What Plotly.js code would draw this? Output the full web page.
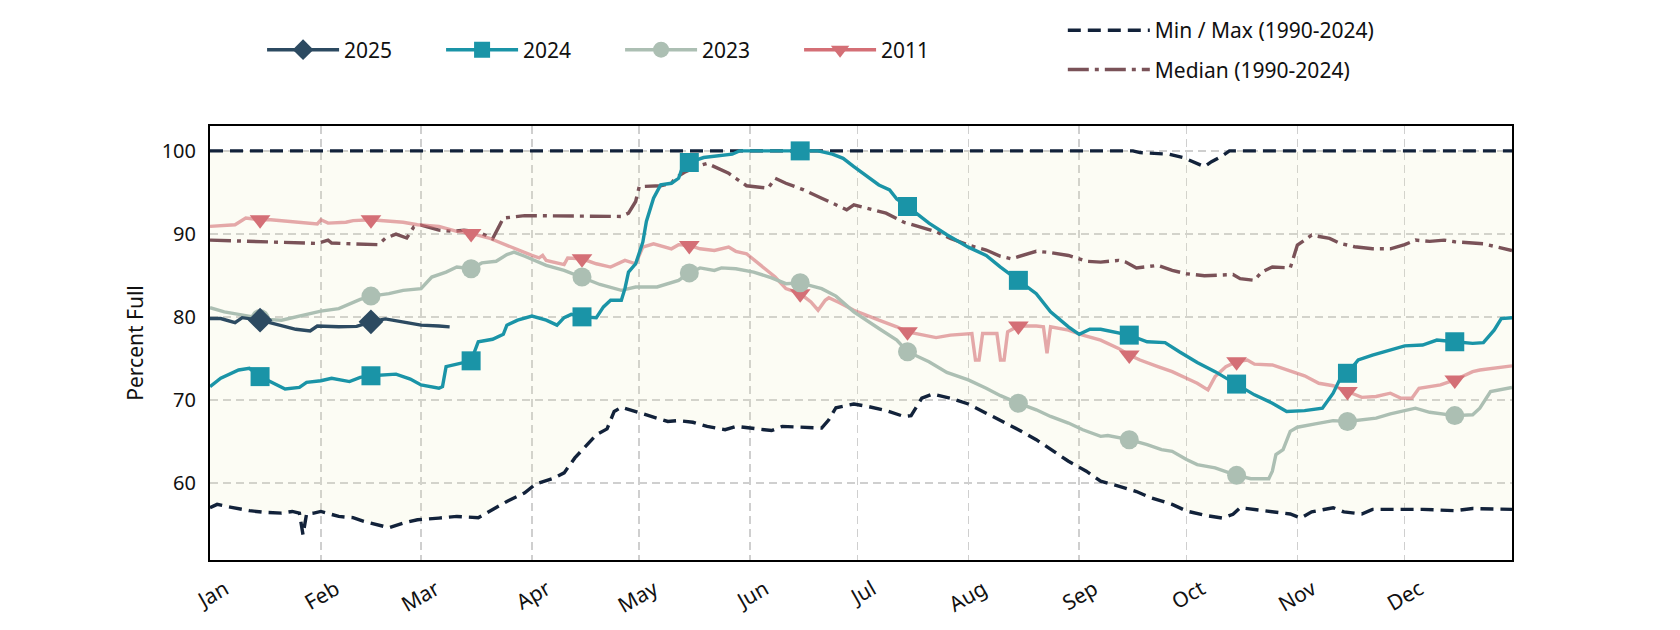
<!DOCTYPE html>
<html>
<head>
<meta charset="utf-8">
<script src="https://cdn.plot.ly/plotly-3.0.1.min.js"></script>
<style>
html,body{margin:0;padding:0;background:#ffffff;}
#chart{width:1680px;height:630px;}
</style>
</head>
<body>
<div id="chart"></div>
<script>
// ---------- axis labels ----------
const monthLabels = ['Jan','Feb','Mar','Apr','May','Jun','Jul','Aug','Sep','Oct','Nov','Dec'];
const monthStarts = ['01-01','02-01','03-01','04-01','05-01','06-01','07-01','08-01','09-01','10-01','11-01','12-01'];
const yTicks = [60, 70, 80, 90, 100];

// ---------- 2025 ----------
const dates2025 = ['01-01','01-04','01-08','01-10','01-15','01-20','01-25','01-29','01-31','02-06','02-11','02-15','02-19','02-25','03-01','03-06','03-09'];
const vals2025  = [79.8,79.8,79.3,79.9,79.6,79.0,78.5,78.3,78.9,78.8,78.85,79.4,79.75,79.3,79.0,78.9,78.8];

// ---------- 2024 ----------
const dates2024 = ['01-01','01-04','01-09','01-12','01-15','01-18','01-22','01-26','01-28','02-01','02-04','02-09','02-12','02-15','02-22','02-26','03-01','03-06','03-07','03-08','03-11','03-15','03-17','03-21','03-24','03-25','03-28','04-01','04-05','04-08','04-10','04-12','04-15','04-19','04-21','04-23','04-26','04-27','04-28','04-30','05-02','05-03','05-05','05-07','05-10','05-12','05-13','05-15','05-19','05-24','05-27','05-29','06-15','06-20','06-24','06-27','06-30','07-07','07-10','07-12','07-15','07-21','07-26','08-01','08-06','08-10','08-15','08-20','08-24','08-29','09-01','09-04','09-07','09-12','09-15','09-20','09-25','09-29','10-04','10-09','10-15','10-20','10-25','10-29','11-03','11-08','11-11','11-13','11-15','11-18','11-22','11-27','12-01','12-06','12-10','12-15','12-20','12-23','12-26','12-28','12-31'];
const vals2024  = [71.6,72.6,73.6,73.8,72.8,72.2,71.3,71.5,72.1,72.3,72.6,72.2,72.7,72.9,73.1,72.5,71.8,71.4,71.6,74.0,74.3,74.7,77.0,77.3,77.9,79.0,79.6,80.1,79.6,79.0,79.9,80.3,80.0,79.9,81.2,82.0,82.0,83.4,85.4,86.4,89.0,91.5,94.3,95.9,96.1,96.7,97.9,98.6,99.2,99.4,99.6,100,100,100,99.6,99.1,98.1,95.9,95.3,94.2,93.3,91.3,89.9,88.4,87.4,86.0,84.4,82.8,80.6,78.8,77.9,78.5,78.5,78.0,77.8,77.0,76.9,75.8,74.5,73.4,71.9,70.6,69.6,68.6,68.7,69.0,70.8,72.6,73.2,74.8,75.4,76.0,76.5,76.6,77.2,77.0,76.8,76.9,78.4,79.8,79.9];

// ---------- 2023 ----------
const dates2023 = ['01-01','01-05','01-09','01-13','01-15','01-17','01-21','01-25','01-29','02-01','02-06','02-10','02-12','02-15','02-20','02-24','03-01','03-04','03-08','03-11','03-15','03-18','03-22','03-25','03-27','03-30','04-02','04-05','04-10','04-15','04-20','04-26','04-30','05-06','05-09','05-12','05-15','05-18','05-22','05-24','05-28','06-02','06-07','06-11','06-15','06-21','06-25','06-30','07-07','07-12','07-15','07-21','07-26','08-01','08-06','08-10','08-15','08-20','08-24','08-29','09-02','09-07','09-09','09-15','09-20','09-24','09-27','10-01','10-04','10-09','10-15','10-19','10-24','10-25','10-26','10-28','10-30','11-01','11-06','11-11','11-15','11-19','11-23','11-27','12-01','12-04','12-08','12-15','12-20','12-22','12-25','12-31'];
const vals2023  = [81.1,80.6,80.3,80.0,79.8,79.7,79.6,80.0,80.3,80.7,81.0,81.8,82.1,82.5,82.8,83.2,83.4,84.8,85.4,86.0,85.8,86.5,86.7,87.5,87.8,87.3,86.8,86.2,85.6,84.8,83.9,83.2,83.6,83.6,84.0,84.4,85.3,85.9,85.6,85.9,85.8,85.4,84.7,84.0,84.1,83.4,82.5,80.6,78.6,77.2,75.8,74.6,73.3,72.4,71.4,70.5,69.6,68.8,68.0,67.2,66.4,65.6,65.7,65.2,64.6,64.0,63.8,62.8,62.2,61.8,60.9,60.5,60.5,61.4,63.4,64.0,66.2,66.7,67.1,67.5,67.4,67.6,67.8,68.3,68.7,69.0,68.5,68.1,68.2,69.0,71.0,71.5];

// ---------- 2011 ----------
const dates2011 = ['01-01','01-05','01-08','01-11','01-13','01-15','01-18','01-23','01-28','01-31','02-01','02-03','02-08','02-10','02-15','02-20','02-24','02-28','03-06','03-11','03-15','03-20','03-25','03-29','04-01','04-03','04-04','04-05','04-10','04-11','04-15','04-19','04-23','04-27','04-30','05-02','05-05','05-10','05-12','05-15','05-18','05-22','05-26','05-28','05-31','06-04','06-08','06-11','06-15','06-18','06-20','06-22','06-23','06-26','06-30','07-07','07-12','07-15','07-19','07-23','07-27','08-01','08-02','08-03','08-04','08-05','08-09','08-10','08-11','08-12','08-15','08-20','08-22','08-23','08-24','08-29','09-02','09-07','09-12','09-15','09-18','09-23','09-27','10-01','10-04','10-07','10-09','10-12','10-15','10-18','10-20','10-25','10-29','11-03','11-07','11-11','11-15','11-19','11-23','11-27','11-30','12-03','12-05','12-11','12-15','12-20','12-22','12-31'];
const vals2011  = [90.9,91.0,91.1,91.9,91.8,91.7,91.7,91.5,91.4,91.2,91.7,91.3,91.4,91.6,91.7,91.5,91.4,91.1,90.9,90.3,90.05,89.5,88.6,87.9,87.4,87.1,87.4,86.8,86.3,87.1,87.0,86.4,86.0,86.8,86.4,88.4,88.8,88.2,88.7,88.6,88.2,88.0,88.4,87.9,87.6,86.2,84.8,83.4,82.8,81.8,80.8,82.0,82.3,81.7,80.8,79.6,78.8,78.2,77.9,77.5,77.8,78.0,78.0,74.8,74.8,78.0,78.0,74.8,74.8,78.2,78.9,78.9,78.8,75.6,78.8,78.4,77.8,77.2,76.2,75.4,74.8,74.0,73.4,72.6,72.0,71.2,72.8,74.0,74.6,74.8,74.3,74.2,73.6,72.9,72.0,71.7,71.0,70.3,70.4,70.8,70.2,70.2,71.4,71.8,72.4,73.4,73.6,74.1];

// ---------- Median (1990-2024) ----------
const datesMedian = ['01-01','01-10','01-18','01-28','01-31','02-03','02-04','02-10','02-17','02-19','02-22','02-25','02-27','03-01','03-06','03-10','03-13','03-17','03-21','03-23','03-24','03-30','04-07','04-16','04-26','04-28','04-30','05-01','05-07','05-10','05-11','05-14','05-17','05-20','05-22','05-26','05-28','05-31','06-06','06-08','06-11','06-16','06-21','06-25','06-28','06-30','07-04','07-09','07-14','07-18','07-23','07-27','08-01','08-06','08-10','08-13','08-17','08-20','08-24','08-29','09-03','09-07','09-12','09-14','09-17','09-20','09-23','09-27','10-01','10-06','10-11','10-14','10-16','10-20','10-22','10-25','10-30','11-01','11-05','11-10','11-13','11-17','11-22','11-27','12-01','12-04','12-08','12-12','12-15','12-20','12-23','12-31'];
const valsMedian  = [89.25,89.1,89.05,88.85,88.85,89.25,88.9,88.8,88.7,89.45,89.97,89.5,90.85,91.05,90.45,90.3,90.45,90.25,89.4,91.05,91.9,92.2,92.2,92.1,92.1,92.5,93.9,95.7,95.8,96.1,96.7,97.5,98.1,98.5,98.1,97.3,96.7,95.8,95.5,96.7,96.1,95.3,94.3,93.5,92.9,93.5,93.1,92.5,91.4,90.9,90.25,89.45,88.65,88.05,87.3,87.0,87.5,87.9,87.75,87.4,86.7,86.6,86.8,86.6,85.9,86.0,86.2,85.6,85.2,84.95,85.1,85.1,84.6,84.4,85.4,86.0,85.9,88.65,89.85,89.45,88.85,88.45,88.2,88.2,88.7,89.25,89.1,89.25,89.05,88.85,88.8,88.0];

// ---------- Max (1990-2024) ----------
const datesMax = ['01-01','09-16','09-18','09-26','09-30','10-03','10-06','10-08','10-11','10-13','12-31'];
const valsMax  = [100,100,99.8,99.6,99.2,98.6,98.1,98.7,99.4,100,100];

// ---------- Min (1990-2024) ----------
const datesMin = ['01-01','01-03','01-07','01-12','01-16','01-21','01-24','01-26','01-27','01-28','01-30','02-01','02-06','02-10','02-13','02-17','02-20','02-24','02-28','03-06','03-11','03-17','03-22','03-25','03-30','04-02','04-07','04-10','04-13','04-16','04-19','04-22','04-24','04-26','04-30','05-05','05-09','05-12','05-16','05-20','05-25','05-28','06-02','06-07','06-10','06-16','06-21','06-23','06-25','06-30','07-04','07-09','07-14','07-16','07-19','07-22','07-27','08-01','08-06','08-10','08-15','08-20','08-24','08-29','09-03','09-07','09-12','09-17','09-21','09-24','09-27','10-01','10-06','10-11','10-14','10-16','10-20','10-25','10-30','11-02','11-05','11-11','11-14','11-19','11-22','11-27','12-06','12-15','12-20','12-31'];
const valsMin  = [57.0,57.4,57.05,56.65,56.45,56.35,56.55,56.35,53.75,56.25,56.35,56.55,55.95,55.8,55.35,54.95,54.6,55.15,55.55,55.75,55.95,55.8,57.0,57.75,58.8,59.85,60.55,61.2,63.0,64.4,65.8,66.5,68.6,69.1,68.6,68.0,67.4,67.5,67.3,66.8,66.4,66.8,66.6,66.3,66.8,66.7,66.6,67.6,69.05,69.5,69.2,68.7,68.0,68.1,70.2,70.7,70.2,69.5,68.4,67.5,66.4,65.2,64.0,62.6,61.4,60.2,59.6,58.95,58.2,57.8,57.4,56.6,56.1,55.75,56.2,57.0,56.8,56.5,56.25,55.75,56.5,57.0,56.5,56.25,56.8,56.8,56.8,56.65,56.9,56.8];

// ---------- build ----------
const YR = '2025-';
const toX = arr => arr.map(d => YR + d);
const FONT = 'Noto Sans, DejaVu Sans, sans-serif';
const LW = 3.4;

const C = {
  y2025: '#2c4a61',
  y2024: '#1a94a7',
  y2023: '#acbfb3',
  y2011: '#d46f76',
  y2011line: 'rgba(212,111,117,0.6)',
  median: '#7a5258',
  minmax: '#12223a'
};

function midMonth(dates, vals) {
  const xs = [], ys = [];
  dates.forEach((d, i) => { if (d.endsWith('-15')) { xs.push(YR + d); ys.push(vals[i]); } });
  return {x: xs, y: ys};
}

const traces = [];

// min / max with band
traces.push({
  x: toX(datesMin), y: valsMin, type: 'scatter', mode: 'lines',
  name: 'Min / Max (1990-2024)', legend: 'legend2', legendgroup: 'mm', legendrank: 1,
  line: {color: C.minmax, width: LW, dash: '13px,7px'},
  hoverinfo: 'skip'
});
traces.push({
  x: toX(datesMax), y: valsMax, type: 'scatter', mode: 'lines',
  name: 'Max', showlegend: false, legendgroup: 'mm',
  line: {color: C.minmax, width: LW, dash: '13px,7px'},
  fill: 'tonexty', fillcolor: 'rgba(236,236,178,0.15)',
  hoverinfo: 'skip'
});
traces.push({
  x: toX(datesMedian), y: valsMedian, type: 'scatter', mode: 'lines',
  name: 'Median (1990-2024)', legend: 'legend2', legendgroup: 'med', legendrank: 2,
  line: {color: C.median, width: LW, dash: '21px,6px,4px,6px'},
  hoverinfo: 'skip'
});

const series = [
  {name: '2011', dates: dates2011, vals: vals2011, color: C.y2011, lineColor: C.y2011line, symbol: 'triangle-down', size: 18, rank: 4},
  {name: '2023', dates: dates2023, vals: vals2023, color: C.y2023, lineColor: C.y2023, symbol: 'circle', size: 19, rank: 3},
  {name: '2024', dates: dates2024, vals: vals2024, color: C.y2024, lineColor: C.y2024, symbol: 'square', size: 19, rank: 2},
  {name: '2025', dates: dates2025, vals: vals2025, color: C.y2025, lineColor: C.y2025, symbol: 'diamond', size: 19, rank: 1}
];

series.forEach(s => {
  traces.push({
    x: toX(s.dates), y: s.vals, type: 'scatter', mode: 'lines',
    name: s.name, showlegend: false, legendgroup: s.name,
    line: {color: s.lineColor, width: LW}, hoverinfo: 'skip'
  });
  const m = midMonth(s.dates, s.vals);
  traces.push({
    x: m.x, y: m.y, type: 'scatter', mode: 'markers',
    name: s.name, showlegend: false, legendgroup: s.name,
    marker: {color: s.color, symbol: s.symbol, size: s.size, line: {width: 0}},
    hoverinfo: 'skip'
  });
});

// legend entries (line + marker)
series.slice().sort((a, b) => a.rank - b.rank).forEach(s => {
  traces.push({
    x: [null], y: [null], type: 'scatter', mode: 'lines+markers',
    name: s.name, legend: 'legend', legendgroup: s.name, legendrank: s.rank,
    line: {color: s.color, width: LW},
    marker: {color: s.color, symbol: s.symbol, size: s.size, line: {width: 0}},
    hoverinfo: 'skip'
  });
});

const layout = {
  width: 1680, height: 630,
  paper_bgcolor: '#ffffff', plot_bgcolor: '#ffffff',
  margin: {l: 210, r: 168, t: 126, b: 70, autoexpand: false},
  font: {family: FONT, size: 20, color: '#111111'},
  showlegend: true,
  xaxis: {
    type: 'date',
    range: [YR + '01-01', YR + '12-31'],
    tickmode: 'array',
    tickvals: toX(monthStarts),
    ticktext: monthLabels,
    tickangle: -30,
    ticks: '',
    ticklabelstandoff: 7,
    ticklabelshift: 15,
    tickfont: {family: FONT, size: 21, color: '#111111'},
    showgrid: true, gridcolor: '#cfcfcf', gridwidth: 1.5, griddash: '8px,5px',
    showline: true, linecolor: '#000000', linewidth: 2, mirror: true,
    zeroline: false, automargin: false, fixedrange: true
  },
  yaxis: {
    range: [50.7, 103.0],
    tickmode: 'array',
    tickvals: yTicks,
    ticktext: yTicks.map(String),
    ticks: '',
    ticklabelstandoff: 8,
    tickfont: {family: FONT, size: 20, color: '#111111'},
    title: {text: 'Percent Full', font: {family: FONT, size: 21, color: '#111111'}, standoff: 12},
    showgrid: true, gridcolor: '#cfcfcf', gridwidth: 1.5, griddash: '8px,5px',
    showline: true, linecolor: '#000000', linewidth: 2, mirror: true,
    zeroline: false, automargin: false, fixedrange: true
  },
  legend: {
    orientation: 'h', x: 0.040, xanchor: 'left', y: 1.175, yanchor: 'middle',
    font: {family: FONT, size: 21, color: '#111111'},
    itemwidth: 72, entrywidth: 92, bgcolor: 'rgba(0,0,0,0)', borderwidth: 0,
    traceorder: 'normal'
  },
  legend2: {
    orientation: 'v', x: 0.655, xanchor: 'left', y: 1.175, yanchor: 'middle',
    font: {family: FONT, size: 21, color: '#111111'},
    itemwidth: 82, tracegroupgap: 9, bgcolor: 'rgba(0,0,0,0)', borderwidth: 0,
    traceorder: 'grouped'
  }
};

Plotly.newPlot('chart', traces, layout, {staticPlot: true, displayModeBar: false, responsive: false});
</script>
</body>
</html>
